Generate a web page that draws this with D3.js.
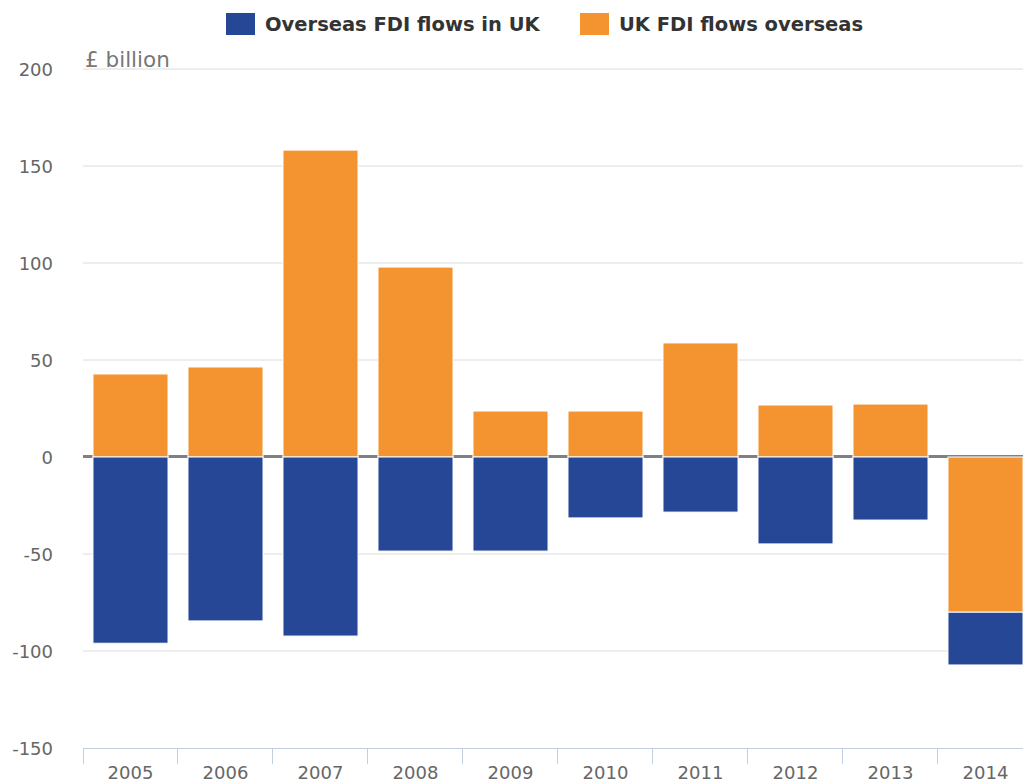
<!DOCTYPE html>
<meta charset="utf-8">
<style>
body { margin: 0; background: #fff; }
text { font-family: "DejaVu Sans", sans-serif; }
.tick text { fill: #666; font-size: 18px; }
.legend text { font-size: 19.5px; font-weight: bold; fill: #333; }
</style>
<svg width="1023" height="782"></svg>
<script src="https://d3js.org/d3.v7.min.js"></script>
<script>

var years = ["2005","2006","2007","2008","2009","2010","2011","2012","2013","2014"];
var inwardFDI = [-96, -84.5, -92.3, -48.5, -48.5, -31.4, -28.4, -44.8, -32.5, -27.2];
var outwardFDI = [42.8, 46.4, 158.2, 97.9, 23.7, 23.7, 58.8, 26.8, 27.3, -80];
var yTicks = [-150, -100, -50, 0, 50, 100, 150, 200];
var seriesNames = ["Overseas FDI flows in UK", "UK FDI flows overseas"];
var colors = ["#264796", "#f39431"];

var svg = d3.select("svg");

var rows = years.map((y, i) => ({year: y, inward: inwardFDI[i], outward: outwardFDI[i]}));

// orange stacks first so that negative orange sits next to zero
var stack = d3.stack()
    .keys(["outward", "inward"])
    .offset(d3.stackOffsetDiverging);
var layers = stack(rows);

var x = d3.scaleBand()
    .domain(years)
    .range([83, 1033])
    .paddingInner(0.21)
    .paddingOuter(0.105);

var y = d3.scaleLinear()
    .domain([-150, 200])
    .range([748, 69]);

// gridlines
svg.append("g")
  .selectAll("line")
  .data(yTicks.filter(d => d !== -150))
  .join("line")
    .attr("x1", 83)
    .attr("x2", 1023)
    .attr("y1", d => y(d))
    .attr("y2", d => y(d))
    .attr("stroke", "#dcdcdc")
    .attr("stroke-width", 1);

// zero plot line
svg.append("line")
    .attr("x1", 83)
    .attr("x2", 1023)
    .attr("y1", y(0) - 0.5)
    .attr("y2", y(0) - 0.5)
    .attr("stroke", "#808080")
    .attr("stroke-width", 3);

// y axis labels
var yAxis = svg.append("g")
    .attr("transform", "translate(53,0)")
    .call(d3.axisLeft(y).tickValues(yTicks).tickSize(0).tickPadding(0).tickFormat(d => String(d)));
yAxis.select(".domain").remove();
yAxis.selectAll("text").attr("dy", "0.35em");

// x axis
var xAxis = svg.append("g")
    .attr("transform", "translate(0,748)")
    .call(d3.axisBottom(x).tickSize(0).tickPadding(18));
xAxis.select(".domain").remove();
xAxis.append("line")
    .attr("x1", 83).attr("x2", 1023)
    .attr("y1", 0.5).attr("y2", 0.5)
    .attr("stroke", "#c0d0e0");
xAxis.selectAll(".sep")
  .data(years.concat(["end"]))
  .join("line")
    .attr("class", "sep")
    .attr("x1", (d, i) => 83 + i * x.step() - 0.5 + (i === 0 ? 1 : 0))
    .attr("x2", (d, i) => 83 + i * x.step() - 0.5 + (i === 0 ? 1 : 0))
    .attr("y1", 0)
    .attr("y2", 16)
    .attr("stroke", "#c0d0e0");

// bars
var colorOf = {outward: colors[1], inward: colors[0]};
svg.append("g")
  .selectAll("g")
  .data(layers)
  .join("g")
    .attr("fill", d => colorOf[d.key])
  .selectAll("rect")
  .data(d => d)
  .join("rect")
    .attr("x", d => x(d.data.year))
    .attr("width", x.bandwidth())
    .attr("y", d => y(Math.max(d[0], d[1])))
    .attr("height", d => Math.abs(y(d[0]) - y(d[1])))
    .attr("stroke", "#fff")
    .attr("stroke-width", 1);

// unit label
svg.append("text")
    .attr("x", 85)
    .attr("y", 67)
    .attr("fill", "#777")
    .attr("font-size", "21.5px")
    .text("£ billion");

// legend
var legendX = [226, 580];
var legend = svg.append("g").attr("class", "legend")
  .selectAll("g")
  .data(seriesNames)
  .join("g")
    .attr("transform", (d, i) => "translate(" + legendX[i] + ",13)");
legend.append("rect")
    .attr("width", 29)
    .attr("height", 22)
    .attr("fill", (d, i) => colors[i]);
legend.append("text")
    .attr("x", 39)
    .attr("y", 18)
    .text(d => d);

</script>
